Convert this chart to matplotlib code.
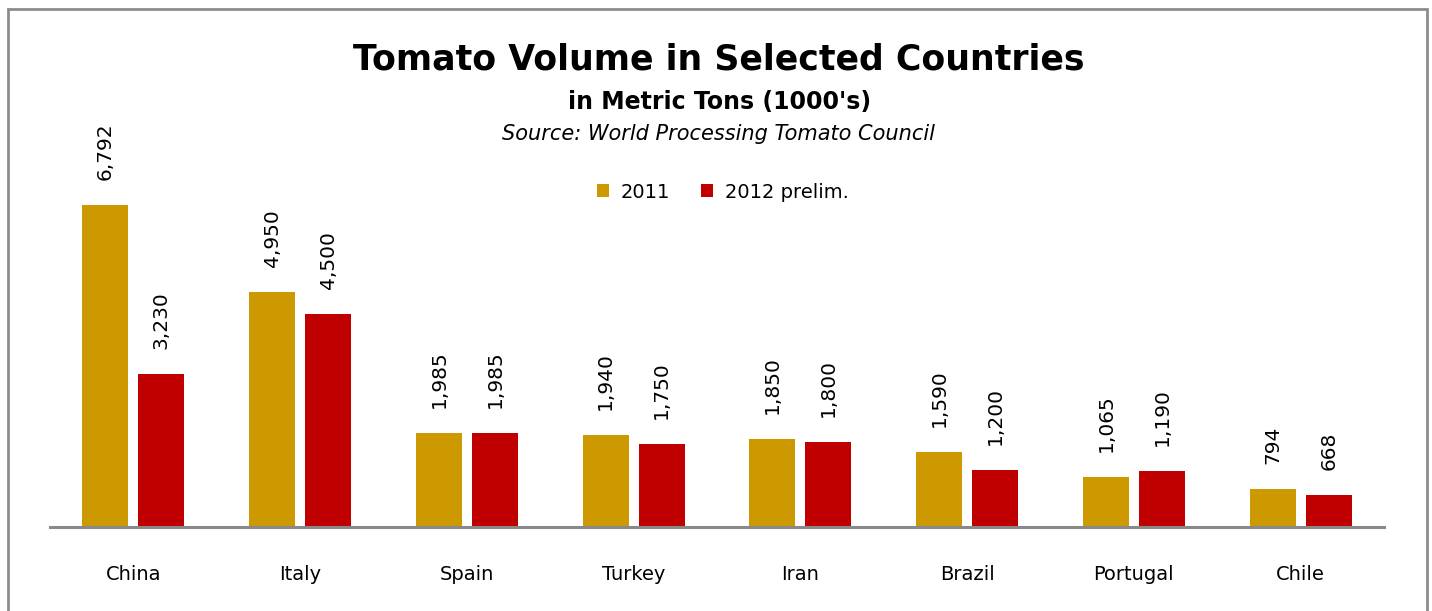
import matplotlib
matplotlib.use("Agg")
import matplotlib.pyplot as plt
import numpy as np
from matplotlib.patches import Rectangle, Patch

countries = ["China", "Italy", "Spain", "Turkey", "Iran", "Brazil", "Portugal", "Chile"]
vol_2011 = [6792, 4950, 1985, 1940, 1850, 1590, 1065, 794]
vol_2012 = [3230, 4500, 1985, 1750, 1800, 1200, 1190, 668]
series_names = ["2011", "2012 prelim."]
colors = ["#CC9900", "#C00000"]

plt.rcParams['font.family'] = ['DejaVu Sans']

W, H = 1432, 611
fig = plt.figure(figsize=(W / 100, H / 100), dpi=100)

# plot area in pixel coords
x0, x1 = 50, 1384
ybase = 527
ymax_val = 8000
px_per_unit = 322 / 6792
top_px = ybase - ymax_val * px_per_unit
ax = fig.add_axes([x0 / W, (H - ybase) / H, (x1 - x0) / W, (ybase - top_px) / H])

x = np.arange(len(countries))
bw = 0.275
off = 0.168
b1 = ax.bar(x - off, vol_2011, bw, color=colors[0], label=series_names[0])
b2 = ax.bar(x + off, vol_2012, bw, color=colors[1], label=series_names[1])

for bars, vals in [(b1, vol_2011), (b2, vol_2012)]:
    for rect, v in zip(bars, vals):
        ax.annotate(f"{v:,}", (rect.get_x() + rect.get_width() / 2, v),
                    xytext=(0, 18), textcoords="offset points",
                    rotation=90, ha="center", va="bottom", fontsize=14.5, color="black")

ax.set_xlim(-0.5, len(countries) - 0.5)
ax.set_ylim(0, ymax_val)
ax.set_yticks([])
ax.set_xticks(x)
ax.set_xticklabels(countries, fontsize=14)
ax.tick_params(axis='x', length=0, pad=27)
for s in ["top", "right", "left"]:
    ax.spines[s].set_visible(False)
ax.spines["bottom"].set_color("#898989")
ax.spines["bottom"].set_linewidth(2.2)
ax.patch.set_alpha(0)

# title texts
fig.text(719 / W, 1 - 70 / H, "Tomato Volume in Selected Countries", ha="center", va="baseline",
         fontsize=25, fontweight="bold")
fig.text(720 / W, 1 - 109 / H, "in Metric Tons (1000's)", ha="center", va="baseline",
         fontsize=17, fontweight="bold")
fig.text(718 / W, 1 - 140 / H, "Source: World Processing Tomato Council", ha="center", va="baseline",
         fontsize=15, style="italic")

handles = [Patch(facecolor=c, edgecolor='none') for c in colors]
fig.legend(handles, series_names, loc="center", bbox_to_anchor=(723 / W, 1 - 192 / H),
           ncol=2, frameon=False, fontsize=14, handlelength=0.6, handleheight=0.6,
           handletextpad=0.6, columnspacing=1.6)

# outer border
fig.patches.append(Rectangle((8 / W, -0.05), (1427 - 8) / W, 1.05 - 9 / H, transform=fig.transFigure,
                             fill=False, edgecolor="#8c8c8c", linewidth=2))

fig.savefig("out.png", dpi=100)
